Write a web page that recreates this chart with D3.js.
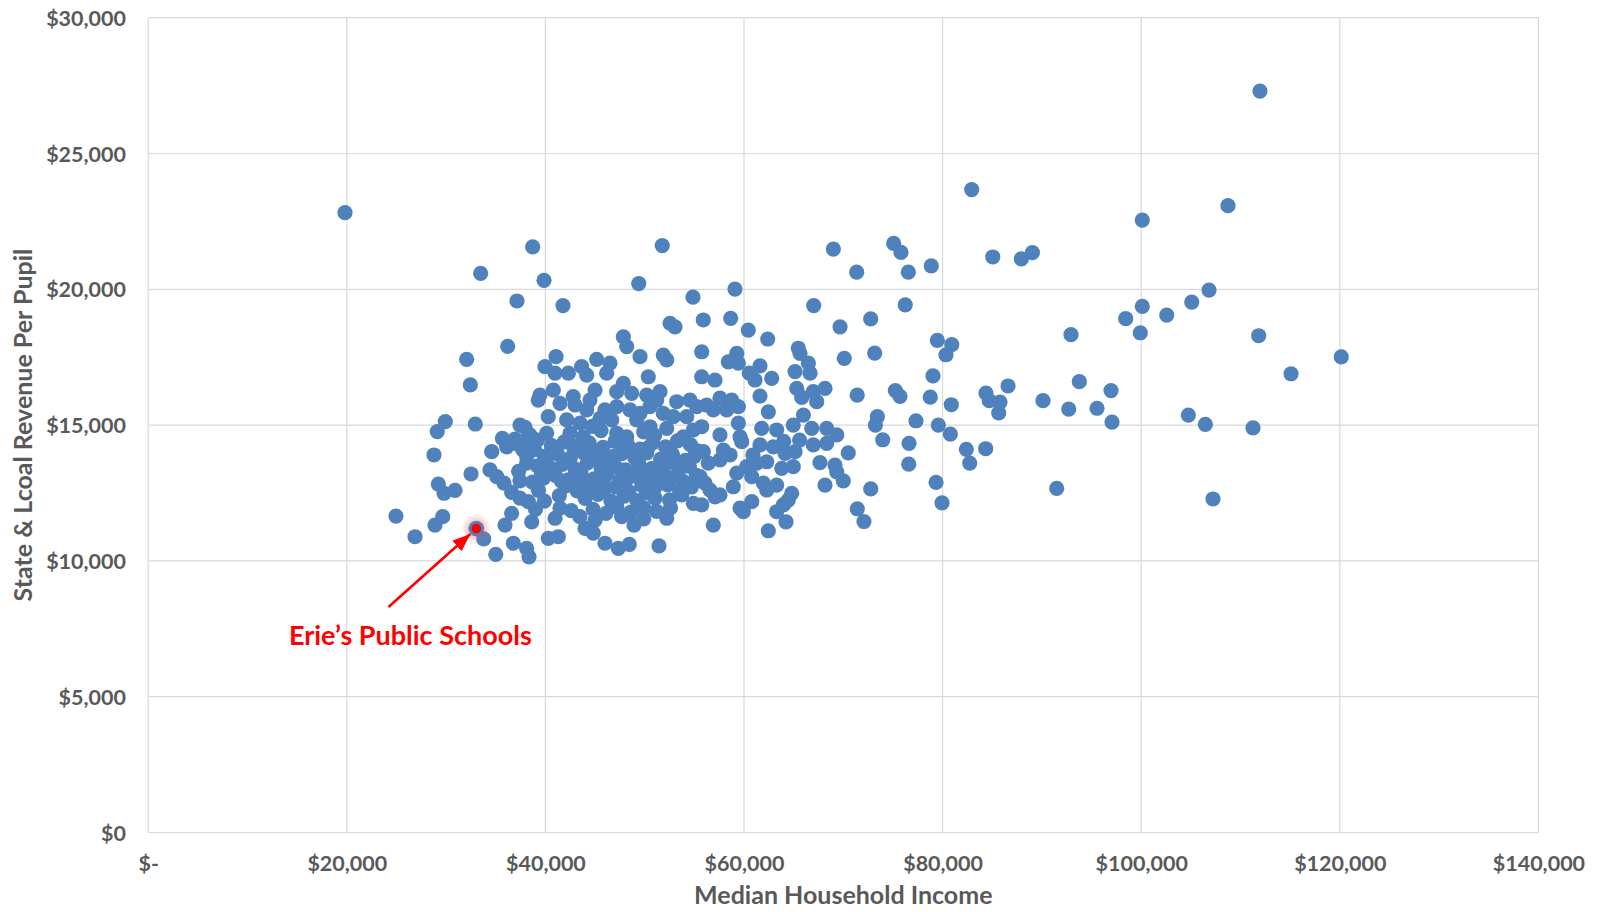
<!DOCTYPE html>
<html>
<head>
<meta charset="utf-8">
<script src="https://cdn.jsdelivr.net/npm/d3@7"></script>
<style>
  body { margin: 0; background: #ffffff; }
  svg { display: block; }
  text { font-family: Lato, "Open Sans", sans-serif; font-weight: 700; }
</style>
</head>
<body>
<svg id="chart" width="1597" height="912"></svg>
<script>
// Median household income of each school district (USD)
const medianIncome = [
  19820,33480,38720,39860,37140,41770,51770,49400,54860,59090,
  69000,67020,71350,111960,82930,100110,108740,75070,75810,76550,
  78860,85050,87930,89040,76240,100110,102570,105090,106830,72760,
  98440,99910,92930,111830,120150,115090,79470,80920,80340,73160,
  70100,79030,71400,75240,75710,78760,80880,84370,84700,85780,
  85650,86590,90110,93770,92700,96960,95550,97060,104750,106460,
  111260,73430,73230,77320,79570,80780,73970,76620,82390,84340,
  82730,76590,79340,72760,91490,79940,71410,72080,107230,70500,
  70000,
  58660,55900,60430,69670,62390,65470,65640,55740,59270,58420,
  59430,61610,66480,65140,66650,60530,61110,62790,55740,57080,
  65310,68160,66980,65810,67320,61610,56240,57580,58760,59430,
  58260,56910,62450,65980,55740,59430,61780,63290,64960,66820,
  68330,69340,57580,59600,
  56910,62450,64230,59930,59600,63290,63960,64460,64800,55740,
  60780,63290,62290,68160,69340,69160,67650,63800,64960,65140,
  64130,59770,57580,57920,55900,60270,61280,62290,59270,60780,
  61950,56580,57580,58920,55570,61610,62950,66980,68330,56070,
  57080,56400,58600,60900,64000,65600,
  52550,53050,47850,48190,49530,51870,52220,41070,39960,43650,
  44160,45160,46500,46170,40970,42310,50360,47850,47180,48690,
  45000,40800,39450,50200,51540,53220,54560,41470,42980,44490,
  44160,46000,47180,48520,49530,50530,51210,51870,52880,54230,
  55240,40290,42140,43480,45500,46680,49190,50530,52220,40130,
  42480,43820,47180,48190,53890,54900,42800,45600,51000,44700,
  49900,
  36200,32070,32440,29920,29110,32940,37440,37950,39280,35660,
  36940,38600,39200,
  28780,29220,29790,30900,24950,26870,28880,29660,32510,33040,
  33790,35000,34420,34590,35100,35830,36100,36940,36600,37440,
  38110,38110,37440,38280,36600,35930,38620,36770,38110,38350,
  38900,39200,38700,39300,37800,39000,37300,
  40290,41300,46000,47340,48450,51440,48920,52220,44820,43990,
  43480,40970,41470,47680,54900,53730,51040,45000,49900,
  40600,41900,43100,44400,45800,47000,48300,49500,50800,52100,53300,54600,55300,
  39900,41200,42500,43800,45100,46400,47700,49000,50200,51600,52800,54100,55000,
  40400,41700,43000,44200,45600,46900,48100,49400,50700,52000,53400,54500,
  39800,41000,42300,43600,44900,46200,47500,48800,50100,51300,52600,53900,55200,
  42000,43200,44500,45900,47100,48400,49700,51000,52300,53500,54700,
  39900,41400,44000,45300,46600,47900,49200,50200,52500,
  42600,44800,46100,47200,48600,49900,51200,52600,
  40800,42100,43400,44600,45800,46900,48000,41600,42900,45200,
  47600,49800,51600,50300,53100,44100,40500,38400,37700,39600
];

// State & local revenue per pupil of the same districts (USD), same order
const revenuePerPupil = [
  22820,20590,21560,20330,19570,19400,21610,20210,19710,20010,
  21480,19400,20630,27300,23670,22550,23080,21690,21360,20630,
  20860,21190,21120,21350,19430,19370,19050,19530,19970,18910,
  18920,18400,18330,18290,17510,16890,18120,17960,17590,17650,
  17460,16810,16100,16270,16060,16030,15750,16180,15900,15850,
  15450,16440,15900,16600,15590,16270,15620,15110,15370,15030,
  14900,15310,15000,15160,15000,14670,14460,14330,14110,14130,
  13600,13560,12890,12650,12670,12140,11920,11450,12280,13980,
  12950,
  18930,18870,18500,18620,18170,17830,17640,17700,17640,17330,
  17280,17180,17280,16970,16910,16910,16660,16720,16780,16660,
  16350,16350,16230,16020,15860,16070,15740,15990,15920,15680,
  15560,15560,15490,15370,14940,15070,14880,14820,15000,14880,
  14880,14640,14640,14570,
  11320,11110,11440,11810,11940,11810,12060,12240,12490,12060,
  12180,12790,12610,12790,13280,13530,13620,13410,13470,14020,
  13960,14390,13720,14080,14020,13470,13600,13650,13230,13100,
  12860,12610,12430,12730,13100,14270,14200,14270,14330,12860,
  12360,13600,13900,13900,14400,14450,
  18750,18620,18250,17890,17520,17580,17400,17520,17150,17150,
  16840,17420,17280,16910,16910,16910,16780,16540,16230,16170,
  16290,16290,16100,16100,16230,15860,15920,15800,15740,15920,
  15560,15560,15680,15560,15430,15680,15920,15430,15310,15310,
  15680,15310,15190,15070,15250,15190,15190,14940,14880,14700,
  14700,14570,14700,14570,14570,14820,16050,14800,14620,14950,
  14750,
  17900,17420,16480,15130,14760,15040,15000,14920,15920,14510,
  14480,14550,14450,
  13900,12830,12490,12600,11650,10890,11320,11630,13200,11190,
  10810,10240,13350,14020,13100,12860,14200,14330,12520,12950,
  13840,13600,12310,12180,11750,11320,11440,10650,10460,10150,
  14100,13500,12900,12600,14400,11900,13300,
  10830,10890,10650,10460,10610,10550,11320,11570,11020,11200,
  11630,11570,11940,11630,12120,12430,12310,11500,11550,
  14250,14380,14220,14350,14180,14400,14260,14120,14350,14200,14420,14280,14050,
  13850,13950,13780,14000,13880,13720,13950,13800,13980,13750,13920,13700,13850,
  13450,13550,13380,13600,13420,13550,13350,13580,13400,13520,13300,13480,
  13050,13150,12980,13200,13020,13180,12950,13120,13000,13220,13050,12920,13150,
  12750,12580,12800,12620,12720,12550,12780,12680,12800,12600,12720,
  12200,12400,12300,12450,12200,12380,12220,12500,12250,
  11850,11900,11750,11980,11800,11950,11820,11950,
  13250,13650,12850,13750,12950,13850,12850,12950,14100,14050,
  13350,13250,12950,14150,13600,12550,13950,14650,14100,13200
];

// Axis ticks and their labels
const xTicks = [0, 20000, 40000, 60000, 80000, 100000, 120000, 140000];
const xTickLabels = ["$-", "$20,000", "$40,000", "$60,000", "$80,000", "$100,000", "$120,000", "$140,000"];
const yTicks = [0, 5000, 10000, 15000, 20000, 25000, 30000];
const yTickLabels = ["$0", "$5,000", "$10,000", "$15,000", "$20,000", "$25,000", "$30,000"];

// Highlighted district and its callout (label and arrow tail in data units)
const highlightName = "Erie’s Public Schools";
const highlightIncome = 33040;
const highlightRevenue = 11190;
const calloutLabelAt = [26400, 6900];
const calloutTailAt = [24200, 8300];

const xTitle = "Median Household Income";
const yTitle = "State & Lcoal Revenue Per Pupil";

const plot = { left: 148.2, right: 1538.4, top: 17.7, bottom: 832.5 };
const gridColor = "#d9d9d9";
const labelColor = "#595959";
const dotColor = "#4f81bd";
const fontStack = "Lato, 'Open Sans', sans-serif";

const svg = d3.select("#chart");

const x = d3.scaleLinear().domain([0, 140000]).range([plot.left, plot.right]);
const y = d3.scaleLinear().domain([0, 30000]).range([plot.bottom, plot.top]);

// Gridlines (vertical and horizontal, including frame edges at 0 and max)
const grid = svg.append("g");
grid.selectAll("line.v").data(xTicks).join("line")
  .attr("x1", d => x(d)).attr("x2", d => x(d))
  .attr("y1", plot.top).attr("y2", plot.bottom)
  .attr("stroke", gridColor).attr("stroke-width", 1.2);
grid.selectAll("line.h").data(yTicks).join("line")
  .attr("x1", plot.left).attr("x2", plot.right)
  .attr("y1", d => y(d)).attr("y2", d => y(d))
  .attr("stroke", gridColor).attr("stroke-width", 1.2);

// Axes: labels only, lines are drawn by the grid
const xAxis = d3.axisBottom(x).tickValues(xTicks).tickSize(0).tickPadding(0)
  .tickFormat((d, i) => xTickLabels[i]);
const gx = svg.append("g").attr("transform", `translate(0, 871)`).call(xAxis);
gx.select(".domain").remove();
gx.selectAll("text").attr("dy", 0).attr("y", 0)
  .attr("fill", labelColor).attr("font-size", 21.5)
  .attr("font-family", fontStack).attr("font-weight", 700);

const yAxis = d3.axisLeft(y).tickValues(yTicks).tickSize(0).tickPadding(0)
  .tickFormat((d, i) => yTickLabels[i]);
const gy = svg.append("g").attr("transform", `translate(126, 0)`).call(yAxis);
gy.select(".domain").remove();
gy.selectAll("text").attr("x", 0).attr("dy", "0.35em")
  .attr("fill", labelColor).attr("font-size", 21.5)
  .attr("font-family", fontStack).attr("font-weight", 700);

// Axis titles
svg.append("text")
  .attr("x", (plot.left + plot.right) / 2).attr("y", 904)
  .attr("text-anchor", "middle").attr("fill", labelColor).attr("font-size", 25)
  .text(xTitle);
svg.append("text")
  .attr("transform", `translate(32, ${(plot.top + plot.bottom) / 2}) rotate(-90)`)
  .attr("text-anchor", "middle").attr("fill", labelColor).attr("font-size", 25)
  .text(yTitle);

// Scatter points
const points = medianIncome.map((v, i) => ({ income: v, revenue: revenuePerPupil[i] }));
svg.append("g").selectAll("circle").data(points).join("circle")
  .attr("cx", d => x(d.income))
  .attr("cy", d => y(d.revenue))
  .attr("r", 7.6)
  .attr("fill", dotColor);

// Highlighted district: soft red glow with a red dot on top
const defs = svg.append("defs");
const glow = defs.append("radialGradient").attr("id", "glow");
glow.append("stop").attr("offset", "0%").attr("stop-color", "#ff0000").attr("stop-opacity", 0.55);
glow.append("stop").attr("offset", "55%").attr("stop-color", "#ff4040").attr("stop-opacity", 0.3);
glow.append("stop").attr("offset", "100%").attr("stop-color", "#ff8080").attr("stop-opacity", 0);

const hx = x(highlightIncome), hy = y(highlightRevenue);
svg.append("circle").attr("cx", hx).attr("cy", hy).attr("r", 15).attr("fill", "url(#glow)");
svg.append("circle").attr("cx", hx).attr("cy", hy).attr("r", 7.6).attr("fill", dotColor);
svg.append("circle").attr("cx", hx).attr("cy", hy).attr("r", 4.8).attr("fill", "#ff0000");

// Callout arrow pointing to the highlighted dot
defs.append("marker")
  .attr("id", "arrowhead").attr("markerUnits", "userSpaceOnUse")
  .attr("markerWidth", 20).attr("markerHeight", 16)
  .attr("refX", 18).attr("refY", 7).attr("orient", "auto")
  .append("path").attr("d", "M0,0 L18,7 L0,14 Z").attr("fill", "#ff0000");

const tx = x(calloutTailAt[0]), ty = y(calloutTailAt[1]);
const ang = Math.atan2(hy - ty, hx - tx);
const gap = 8;
svg.append("line")
  .attr("x1", tx).attr("y1", ty)
  .attr("x2", hx - gap * Math.cos(ang)).attr("y2", hy - gap * Math.sin(ang))
  .attr("stroke", "#ff0000").attr("stroke-width", 2.6)
  .attr("marker-end", "url(#arrowhead)");

svg.append("text")
  .attr("x", x(calloutLabelAt[0])).attr("y", y(calloutLabelAt[1]))
  .attr("text-anchor", "middle").attr("fill", "#ff0000").attr("font-size", 27)
  .text(highlightName);
</script>
</body>
</html>
